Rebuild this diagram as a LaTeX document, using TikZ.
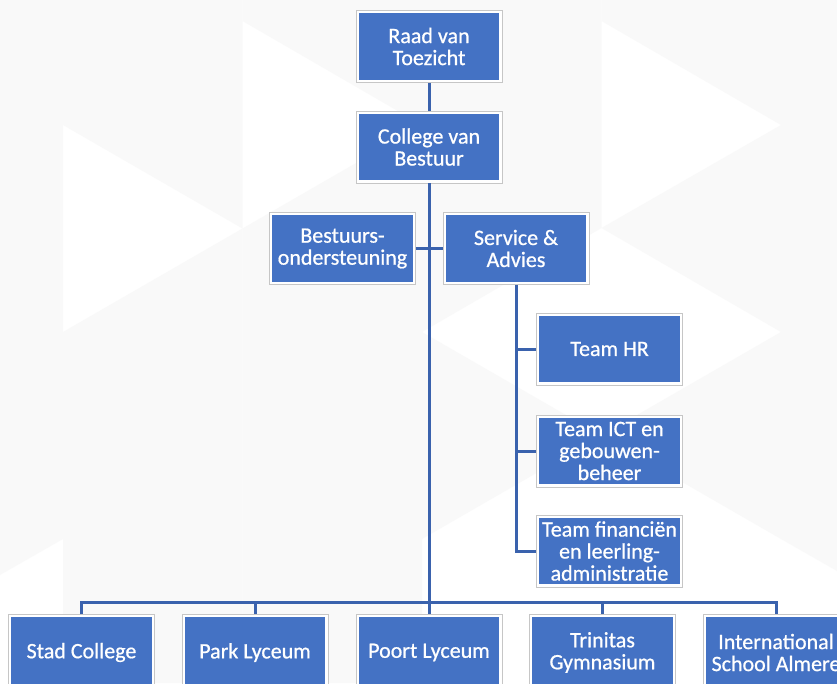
\documentclass[tikz,border=0pt]{standalone}
\usepackage{fontspec}
\setmainfont[FakeBold=0.7]{Carlito}
\definecolor{boxblue}{HTML}{4472C4}
\definecolor{linkblue}{HTML}{3A62AD}
\definecolor{bggray}{HTML}{F9F9F9}
\definecolor{edgegray}{HTML}{C6C6C6}
\begin{document}
\begin{tikzpicture}[x=1pt,y=-1pt,
  orgbox/.style={draw=edgegray, line width=0.8pt, fill=white,
    minimum width=146pt, minimum height=72pt, inner sep=0pt,
    text=white, align=center, font=\fontsize{22}{22}\selectfont,
    path picture={\fill[boxblue]
      ([shift={(2.6pt,2.6pt)}]path picture bounding box.south west) rectangle
      ([shift={(-2.6pt,-2.6pt)}]path picture bounding box.north east);}},
  schoolbox/.style={orgbox, minimum height=76pt},
  link/.style={draw=linkblue, line width=3pt},
  bgtri/.style={fill=bggray, draw=none}]
\useasboundingbox (0,0) rectangle (837,683);
\clip (0,0) rectangle (837,683);
% background pattern
\fill[white] (0,0) rectangle (837,683);
\fill[bgtri] (0,0) -- (63,0) -- (63,539) -- (0,575) -- cycle;
\fill[bgtri] (63,0) -- (242.5,0) -- (242.5,228.5) -- (63,125) -- cycle;
\fill[bgtri] (242.5,228.5) -- (242.5,683) -- (63,683) -- (63,332) -- cycle;
\fill[bgtri] (242.5,0) -- (422,0) -- (422,125) -- (242.5,21) -- cycle;
\fill[bgtri] (242.5,228.5) -- (422,125) -- (422,683) -- (242.5,683) -- cycle;
\fill[bgtri] (422,0) -- (601.5,0) -- (601.5,228) -- (422,332) -- cycle;
\fill[bgtri] (422,332) -- (601.5,435.5) -- (422,539) -- cycle;
\fill[bgtri] (601.5,0) -- (781,0) -- (781,125) -- (601.5,21) -- cycle;
\fill[bgtri] (781,125) -- (781,332) -- (601.5,228) -- cycle;
\fill[bgtri] (781,332) -- (781,539) -- (601.5,435.5) -- cycle;
\fill[bgtri] (781,0) -- (837,0) -- (837,571) -- (781,539) -- cycle;
% nodes
\node[orgbox] (raad) at (429,46.5) {Raad van\\Toezicht};
\node[orgbox] (college) at (429,147) {College van\\Bestuur};
\node[orgbox] (best) at (342.5,248.5) {Bestuurs-\\ondersteuning};
\node[orgbox] (serv) at (516,248.5) {Service \&\\Advies};
\node[orgbox] (hr) at (609.5,349) {Team HR};
\node[orgbox] (ict) at (609.5,451) {Team ICT en\\gebouwen-\\beheer};
\node[orgbox] (fin) at (609.5,551) {Team financiën\\en leerling-\\administratie};
\node[schoolbox] (stad) at (81.5,652.5) {Stad College};
\node[schoolbox] (park) at (255,652.5) {Park Lyceum};
\node[schoolbox] (poort) at (429,652.5) {Poort Lyceum};
\node[schoolbox] (trin) at (602.5,652.5) {Trinitas\\Gymnasium};
\node[schoolbox] (intl) at (776,652.5) {International\\School Almere};
\coordinate (bus) at (429,602);
% connectors
\draw[link] (raad.south) -- (college.north);
\draw[link] (college.south) -- (poort.north);
\draw[link] (best.east) -- (serv.west);
\draw[link] (stad.north) -- (stad.north |- bus) -- (intl.north |- bus) -- (intl.north);
\draw[link] (park.north) -- (park.north |- bus);
\draw[link] (trin.north) -- (trin.north |- bus);
\draw[link] (serv.south) -- (serv.south |- fin.west) -- (fin.west);
\draw[link] (serv.south |- hr.west) -- (hr.west);
\draw[link] (serv.south |- ict.west) -- (ict.west);
\end{tikzpicture}
\end{document}
